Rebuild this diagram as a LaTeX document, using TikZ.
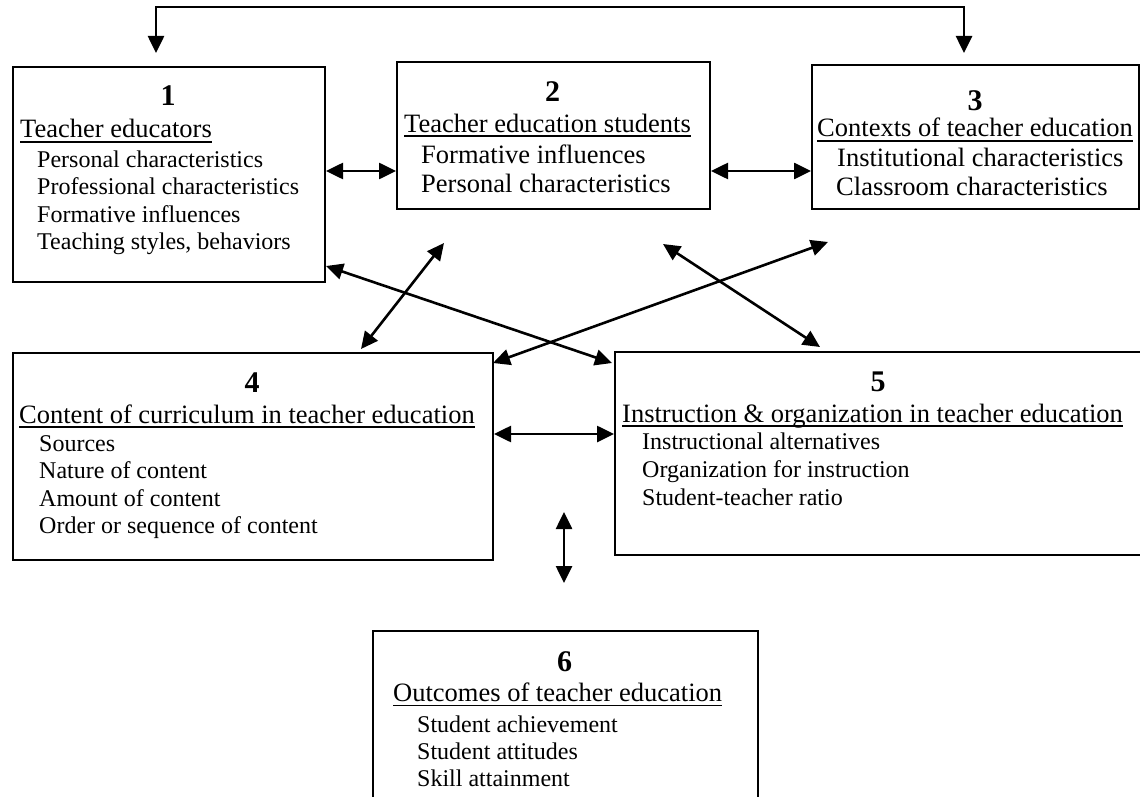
\documentclass[tikz,border=0pt]{standalone}
\usepackage{fontspec}
\setmainfont{Liberation Serif}
\usetikzlibrary{arrows.meta}
\newcommand{\ulx}[1]{\setbox0=\hbox{#1}\rlap{\rule[-4.8pt]{\wd0}{1.8pt}}\box0}
\tikzset{
 box/.style={draw, line width=2pt, anchor=north west, inner sep=0pt},
 num/.style={font=\fontsize{30}{32}\selectfont\bfseries, anchor=base, inner sep=0pt},
 hd/.style={font=\fontsize{26.5}{30}\selectfont, anchor=base west, inner sep=0pt},
 it/.style={font=\fontsize{24}{28}\selectfont, anchor=base west, inner sep=0pt},
 itb/.style={font=\fontsize{26.5}{30}\selectfont, anchor=base west, inner sep=0pt},
 dbl/.style={line width=2.6pt, line join=miter, {Triangle[length=17pt 0,width=16pt 0]}-{Triangle[length=17pt 0,width=16pt 0]}},
}
\begin{document}
\begin{tikzpicture}[x=1pt,y=-1pt]
\useasboundingbox (0,0) rectangle (1140,797);
\clip (0,0) rectangle (1140,797);

% boxes
\node[box, minimum width=312pt, minimum height=215pt] (b1) at (12,66) {};
\node[box, minimum width=313pt, minimum height=147pt] (b2) at (396,61) {};
\node[box, minimum width=327pt, minimum height=144pt] (b3) at (811,64) {};
\node[box, minimum width=480pt, minimum height=207pt] (b4) at (12,352) {};
\node[box, minimum width=530pt, minimum height=203pt] (b5) at (614,351) {};
\node[box, minimum width=385pt, minimum height=190pt] (b6) at (372,630) {};

% box 1
\node[num] (n1) at (168,106) {1};
\node[hd] (h1) at (20,138) {\ulx{Teacher educators}};
\node[it] (i1a) at (37,167) {Personal characteristics};
\node[it] (i1b) at (37,194.5) {Professional characteristics};
\node[it] (i1c) at (37,222) {Formative influences};
\node[it] (i1d) at (37,249) {Teaching styles, behaviors};

% box 2
\node[num] (n2) at (552.5,102) {2};
\node[hd] (h2) at (404,132) {\ulx{Teacher education students}};
\node[itb] (i2a) at (421,163) {Formative influences};
\node[itb] (i2b) at (421,192.7) {Personal characteristics};

% box 3
\node[num] (n3) at (975,110.5) {3};
\node[hd] (h3) at (817,137) {\ulx{Contexts of teacher education}};
\node[itb] (i3a) at (837,166.7) {Institutional characteristics};
\node[itb] (i3b) at (836,195) {Classroom characteristics};

% box 4
\node[num] (n4) at (252,392.7) {4};
\node[hd] (h4) at (19,423) {\ulx{Content of curriculum in teacher education}};
\node[it] (i4a) at (39,451) {Sources};
\node[it] (i4b) at (39,478.5) {Nature of content};
\node[it] (i4c) at (39,506) {Amount of content};
\node[it] (i4d) at (39,533) {Order or sequence of content};

% box 5
\node[num] (n5) at (878,391.5) {5};
\node[hd] (h5) at (622,422) {\ulx{Instruction \& organization in teacher education}};
\node[it] (i5a) at (642,449.5) {Instructional alternatives};
\node[it] (i5b) at (642,477) {Organization for instruction};
\node[it] (i5c) at (642,505) {Student-teacher ratio};

% box 6
\node[num] (n6) at (564.5,671) {6};
\node[hd] (h6) at (393,701.5) {\ulx{Outcomes of teacher education}};
\node[it] (i6a) at (417,732) {Student achievement};
\node[it] (i6b) at (417,759) {Student attitudes};
\node[it] (i6c) at (417,786) {Skill attainment};

% connectors
\coordinate (y12) at (0,171);
\coordinate (y45) at (0,434);
\draw[dbl] (b1.east |- y12) -- (b2.west |- y12);
\draw[dbl] (b2.east |- y12) -- (b3.west |- y12);
\draw[dbl] (b4.east |- y45) -- (b5.west |- y45);

\coordinate (t1) at (156,53);
\coordinate (tl) at (156,7);
\coordinate (tr) at (964,7);
\coordinate (t3) at (964,53);
\draw[dbl] (t1) -- (tl) -- (tr) -- (t3);

\coordinate (d1a) at (326,266);
\coordinate (d1b) at (612,363);
\draw[dbl] (d1a) -- (d1b);
\coordinate (d2a) at (444,243);
\coordinate (d2b) at (361,349);
\draw[dbl] (d2a) -- (d2b);
\coordinate (d3a) at (828,242);
\coordinate (d3b) at (493,363);
\draw[dbl] (d3a) -- (d3b);
\coordinate (d4a) at (663,244);
\coordinate (d4b) at (820,347);
\draw[dbl] (d4a) -- (d4b);

\coordinate (v1) at (564,512);
\coordinate (v2) at (564,583);
\draw[dbl] (v1) -- (v2);
\end{tikzpicture}
\end{document}
